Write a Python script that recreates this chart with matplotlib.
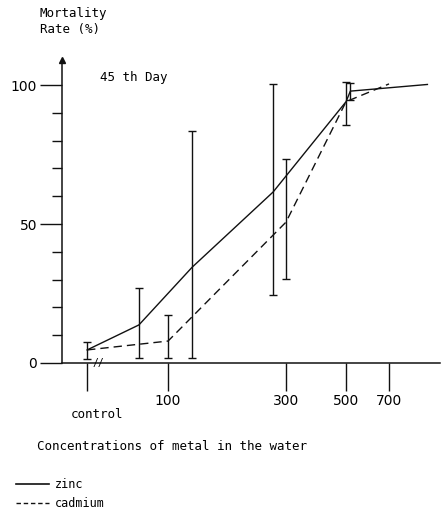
"""Mortality rate vs metal concentration, 45th day (out.png)."""

import matplotlib

matplotlib.use("Agg")
import matplotlib.pyplot as plt  # noqa: E402
import numpy as np  # noqa: E402
from matplotlib.lines import Line2D  # noqa: E402

INK = "#111111"
MONO = "DejaVu Sans Mono"

# zinc mean mortality (%) by concentration (0 = control)
zinc_conc = [0, 64, 141, 278, 500, 520, 880]
zinc_rate = [4.7, 13.7, 34.5, 61.5, 94.0, 97.8, 100.2]
# zinc ranges (the control range is shared by both metals)
zinc_bar_conc = [0, 64, 141, 278, 520]
zinc_bar_lo = [1.4, 1.8, 1.8, 24.5, 94.6]
zinc_bar_hi = [7.6, 27.0, 83.5, 100.4, 100.7]

# cadmium
cad_conc = [0, 100, 300, 500, 700]
cad_rate = [4.7, 7.9, 50.7, 94.0, 100.4]
cad_bar_conc = [100, 300, 500]
cad_bar_lo = [1.8, 30.2, 85.6]
cad_bar_hi = [17.3, 73.4, 101.0]

x_ticks = [0, 100, 300, 500, 700]
x_ticklabels = ["", "100", "300", "500", "700"]

# the hand-drawn x axis is not linear: piecewise map concentration -> axis position
SCALE_CONC = [-100, 0, 100, 300, 500, 700, 1000]
SCALE_POS = [6, 87, 168, 286, 346, 389, 453]


def fwd(c):
    return np.interp(c, SCALE_CONC, SCALE_POS)


def inv(p):
    return np.interp(p, SCALE_POS, SCALE_CONC)


fig = plt.figure(figsize=(4.41, 5.09), dpi=100)
ax = fig.add_axes([62 / 441, 1 - 363 / 509, 378 / 441, 303 / 509])
ax.set_xscale("function", functions=(fwd, inv))
ax.set_xlim(-31, 939)
ax.set_ylim(0, 109)

ax.plot(zinc_conc, zinc_rate, color=INK, lw=1.0)
ax.plot(cad_conc, cad_rate, color=INK, lw=1.0, dashes=(6, 3.6))


def bars(xs, lo, hi):
    lo, hi = np.asarray(lo), np.asarray(hi)
    mid = (lo + hi) / 2
    ax.errorbar(xs, mid, yerr=(hi - lo) / 2, fmt="none", ecolor=INK, elinewidth=1.0, capsize=2.9, capthick=1.0)


bars(zinc_bar_conc, zinc_bar_lo, zinc_bar_hi)
bars(cad_bar_conc, cad_bar_lo, cad_bar_hi)

# axes: only left and bottom, arrow on top of y axis
for side in ("top", "right"):
    ax.spines[side].set_visible(False)
for side in ("left", "bottom"):
    ax.spines[side].set_color(INK)
    ax.spines[side].set_linewidth(1.1)
ax.plot(0, 1, marker="^", ms=5, color=INK, transform=ax.transAxes, clip_on=False)

ax.set_yticks([0, 50, 100])
ax.set_yticklabels(["0", "50", "100"])
ax.set_yticks(np.arange(10, 100, 10), minor=True)
ax.tick_params(axis="y", which="major", length=16, width=1.0, pad=2, labelsize=10, color=INK)
ax.tick_params(axis="y", which="minor", length=7, width=1.0, color=INK)

ax.set_xticks(x_ticks)
ax.set_xticklabels(x_ticklabels)
ax.xaxis.set_minor_locator(matplotlib.ticker.NullLocator())
ax.tick_params(axis="x", which="major", length=20, width=1.0, pad=2, labelsize=10, color=INK)

ax.annotate("control", (0, 0), xycoords=("data", "axes fraction"), xytext=(7, -37),
            textcoords="offset points", ha="center", va="center", fontsize=9, family=MONO)
# axis break next to the control
ax.annotate("//", (0, 0), xycoords=("data", "axes fraction"), xytext=(8, 0),
            textcoords="offset points", ha="center", va="center", fontsize=7, family=MONO)

ax.text(100 / 441, 1 - 77 / 509, "45 th Day", transform=fig.transFigure, va="center", fontsize=9, family=MONO)
fig.text(40 / 441, 1 - 22 / 509, "Mortality\nRate (%)", va="center", fontsize=9, family=MONO, linespacing=1.3)
fig.text(37 / 441, 1 - 446 / 509, "Concentrations of metal in the water", va="center", fontsize=9, family=MONO)

# legend key drawn with shorter dashes, like the typed "----"
handles = [Line2D([], [], color=INK, lw=1.2), Line2D([], [], color=INK, lw=1.0, dashes=(3.2, 2))]
fig.legend(handles, ["zinc", "cadmium"], loc="upper left", bbox_to_anchor=(16 / 441, 1 - 478 / 509),
           frameon=False, prop={"family": MONO, "size": 8.5}, handlelength=2.8, handletextpad=0.5,
           labelspacing=0.5, borderaxespad=0, borderpad=0)

fig.savefig("out.png", dpi=100)
